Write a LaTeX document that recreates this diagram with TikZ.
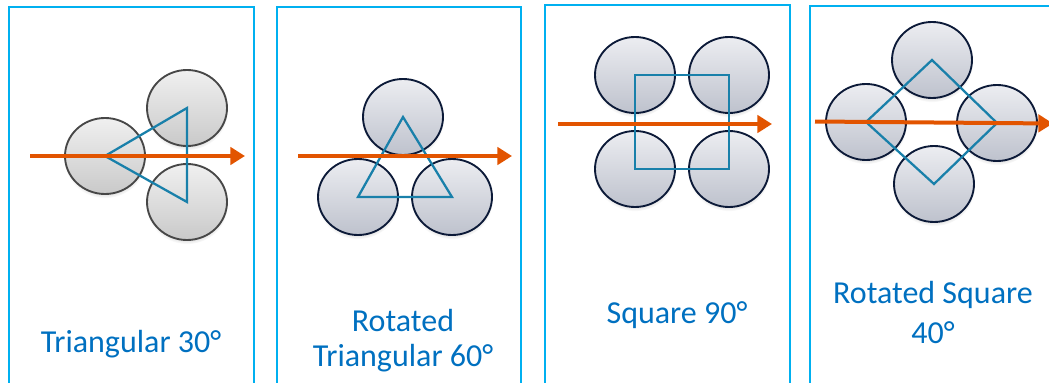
\documentclass[tikz,border=0pt]{standalone}
\usepackage{fontspec}
\setmainfont{Carlito}
\usetikzlibrary{shapes.geometric,arrows.meta,shadows}
\definecolor{boxblue}{RGB}{0,176,240}
\definecolor{textblue}{RGB}{0,112,192}
\definecolor{flow}{RGB}{226,84,0}
\definecolor{pitch}{RGB}{25,128,170}
\definecolor{rim}{RGB}{12,26,56}
\definecolor{tubetop}{RGB}{236,237,241}
\definecolor{tubebot}{RGB}{190,194,205}
\tikzset{
  panel/.style={draw=boxblue,line width=1.1pt},
  tube/.style={ellipse,draw=rim,line width=1.4pt,minimum width=60pt,minimum height=57pt,
    inner sep=0pt,top color=tubetop,bottom color=tubebot,
    circular drop shadow={shadow xshift=0pt,shadow yshift=-2.5pt,shadow scale=1.02,opacity=0.3}},
  greytube/.style={tube,draw=black!72,top color=black!6,bottom color=black!21},
  pitchline/.style={draw=pitch,line width=1.7pt},
  flowarrow/.style={draw=flow,line width=3pt,-{Triangle[length=11pt,width=13pt]}},
  caption/.style={text=textblue,font=\fontsize{24}{26}\selectfont,align=center,anchor=base,inner sep=0pt},
}
\begin{document}
\begin{tikzpicture}[x=0.75pt,y=-0.75pt]
  \useasboundingbox (0,0) rectangle (1049,382);
  \foreach \l/\r/\t in {9/254/7, 277/521/7, 545/790/5, 810/1070/6}
      \draw[panel] (\l,400) |- (\r,\t) -- (\r,400);

  % triangular 30
  \foreach \n/\x/\y in {a1/105/156, a2/187/108, a3/187/202}
      \node[greytube] (\n) at (\x,\y) {};
  \draw[pitchline] (a1.center) -- (a2.center) -- (a3.center) -- cycle;
  \coordinate (a0) at (30,156);
  \coordinate (a9) at (245,156);
  \draw[flowarrow] (a0) -- (a9);
  \node[caption] (la) at (131,352) {Triangular 30°};

  % rotated triangular 60
  \foreach \n/\x/\y in {b1/403/117, b2/358/197, b3/452/197}
      \node[tube] (\n) at (\x,\y) {};
  \draw[pitchline] (b1.center) -- (b2.center) -- (b3.center) -- cycle;
  \coordinate (b0) at (298,156);
  \coordinate (b9) at (512,156);
  \draw[flowarrow] (b0) -- (b9);
  \node[caption] (lb) at (403,366) {Rotated\\Triangular 60°};

  % square 90
  \foreach \n/\x/\y in {c1/635/75, c2/729/75, c3/729/169, c4/635/169}
      \node[tube] (\n) at (\x,\y) {};
  \draw[pitchline] (c1.center) -- (c2.center) -- (c3.center) -- (c4.center) -- cycle;
  \coordinate (c0) at (558,124);
  \coordinate (c9) at (772,124);
  \draw[flowarrow] (c0) -- (c9);
  \node[caption] (lc) at (677,323) {Square 90°};

  % rotated square 40
  \foreach \n/\x/\y in {d1/932/60, d2/997/123, d3/934/184, d4/866/122}
      \node[tube] (\n) at (\x,\y) {};
  \draw[pitchline] (d1.center) -- (d2.center) -- (d3.center) -- (d4.center) -- cycle;
  \coordinate (d0) at (815,121.5);
  \coordinate (d9) at (1053,123.5);
  \draw[flowarrow] (d0) -- (d9);
  \node[caption] (ld) at (933,343) {Rotated Square\\[4pt]40°};
\end{tikzpicture}
\end{document}
